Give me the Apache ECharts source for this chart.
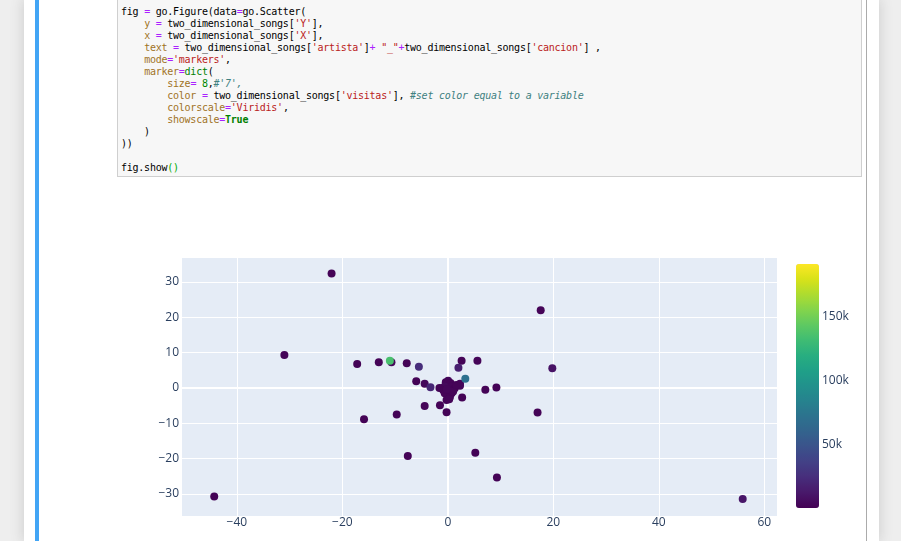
<!DOCTYPE html>
<html>
<head>
<meta charset="utf-8">
<script src="https://cdn.jsdelivr.net/npm/echarts@6/dist/echarts.min.js"></script>
<style>
  html, body { margin: 0; padding: 0; }
  body { width: 901px; height: 541px; overflow: hidden; background: #eeeeee; position: relative; }
  #panel { position: absolute; left: 24px; top: 0; width: 855px; height: 541px; background: #fff;
           box-shadow: 0 0 12px 1px rgba(87,87,87,0.2); }
  #cellborder { position: absolute; left: 35px; top: -2px; width: 832px; height: 560px;
                border-right: 1px solid #ababab; border-left: 4px solid #42a5f5; box-sizing: border-box; }
  #codebox { position: absolute; left: 117px; top: -30px; width: 745px; height: 207px; box-sizing: border-box;
             background: #f7f7f7; border: 1px solid #cfcfcf; }
  pre { position: absolute; left: 121px; top: 5.5px; margin: 0; font-family: "DejaVu Sans Mono", monospace;
        font-size: 10px; letter-spacing: -0.24px; line-height: 12px; color: #000; }
  .op { color: #aa22ff; }
  .kw { color: #a0731f; }
  .s { color: #ba2121; }
  .n { color: #008800; }
  .c { color: #408080; font-style: italic; }
  .bi { color: #008000; }
  .k { color: #008000; font-weight: bold; }
  .mb { color: #00aa00; }
  #chart { position: absolute; left: 0; top: 0; width: 901px; height: 541px; }
</style>
</head>
<body>
<div id="panel"></div>
<div id="cellborder"></div>
<div id="codebox"></div>
<pre>fig <span class="op">=</span> go.Figure(data<span class="op">=</span>go.Scatter(
    <span class="kw">y</span> <span class="op">=</span> two_dimensional_songs[<span class="s">'Y'</span>],
    <span class="kw">x</span> <span class="op">=</span> two_dimensional_songs[<span class="s">'X'</span>],
    <span class="kw">text</span> <span class="op">=</span> two_dimensional_songs[<span class="s">'artista'</span>]<span class="op">+</span> <span class="s">"_"</span><span class="op">+</span>two_dimensional_songs[<span class="s">'cancion'</span>] ,
    <span class="kw">mode</span><span class="op">=</span><span class="s">'markers'</span>,
    <span class="kw">marker</span><span class="op">=</span><span class="bi">dict</span>(
        <span class="kw">size</span><span class="op">=</span> <span class="n">8</span>,<span class="c">#'7',</span>
        <span class="kw">color</span> <span class="op">=</span> two_dimensional_songs[<span class="s">'visitas'</span>], <span class="c">#set color equal to a variable</span>
        <span class="kw">colorscale</span><span class="op">=</span><span class="s">'Viridis'</span>,
        <span class="kw">showscale</span><span class="op">=</span><span class="k">True</span>
    )
))

fig.show<span class="mb">()</span></pre>
<div id="chart"></div>
<script>
// coordenadas 2D de las canciones (X, Y) y visitas
var songX = [-22.05, -31.0, -17.2, -13.1, -10.7, -7.8, -5.5, -6.0, -4.4, -3.3,
             -4.4, -1.5, -15.9, -9.7, -7.6, -44.3, 17.6, 19.8, 5.6, 2.6,
             2.0, 2.3, 2.3, 7.1, 9.2, 2.7, -0.25, 17.0, 5.2, 9.3,
             55.9, 0.05, -0.4, 0.5, -1.2, -0.6, 0.7, 1.3, 0.1, -0.6,
             0.7, 0.4, -0.25, 0.25, -0.9, 1.0, -1.6, 1.6, -0.2, 3.3, -11.0];
var songY = [32.4, 9.3, 6.8, 7.3, 7.3, 7.0, 6.0, 1.9, 1.2, 0.2,
             -5.1, -4.9, -8.9, -7.5, -19.3, -30.8, 22.0, 5.6, 7.7, 7.7,
             5.7, 1.2, 0.6, -0.5, 0.1, -2.7, -6.9, -7.0, -18.4, -25.4,
             -31.5, 2.0, 1.6, 1.4, -0.1, 0.4, 0.4, -0.1, -1.0, -1.5,
             -1.5, -2.5, -3.4, -3.2, -0.6, -1.0, 0.0, 0.8, -0.3, 2.6, 7.7];
var songVisits = [1500, 2000, 1200, 1800, 2500, 1500, 24000, 1000, 3000, 20000,
                  2000, 1500, 1000, 1200, 1800, 1000, 1500, 9000, 2000, 1500,
                  16000, 3000, 2500, 1500, 1200, 1000, 1800, 1500, 1000, 1200,
                  11000, 3000, 2000, 1500, 2500, 4000, 2000, 1000, 3500, 1500,
                  2000, 1200, 1800, 2200, 1500, 2000, 1300, 1700, 2600, 70000, 135000];
var colorbarMin = 0;
var colorbarMax = 191000;
var colorbarStep = 50000;
var viridis = ['#440154', '#48186a', '#472d7b', '#424086', '#3b528b', '#33638d', '#2c728e', '#26828e',
               '#21918c', '#1fa088', '#28ae80', '#3fbc73', '#5ec962', '#84d44b', '#addc30', '#d8e219', '#fde725'];

var points = songX.map(function (x, i) { return [x, songY[i], songVisits[i]]; });
var minus = function (v) { return String(v).replace('-', '\u2212'); };
var tickFont = { fontFamily: 'Open Sans', fontSize: 12, color: '#2a3f5f' };

var chart = echarts.init(document.getElementById('chart'));
var option = {
    animation: false,
    grid: [
        { left: 181, top: 257, width: 596, height: 259, backgroundColor: '#e5ecf6', show: true, borderWidth: 0 },
        { left: 796, top: 264, width: 23, height: 244, show: false }
    ],
    xAxis: [
        {
            type: 'value', min: -50.6, max: 62.4, splitNumber: 5,
            axisLine: { show: false }, axisTick: { show: false },
            splitLine: { lineStyle: { color: '#fff', width: 1 } },
            axisLabel: Object.assign({ margin: 1, showMinLabel: false, showMaxLabel: false, formatter: minus }, tickFont)
        },
        { gridIndex: 1, type: 'category', data: [''], show: false }
    ],
    yAxis: [
        {
            type: 'value', min: -36.3, max: 37.1, splitNumber: 7,
            axisLine: { show: false }, axisTick: { show: false },
            splitLine: { lineStyle: { color: '#fff', width: 1 } },
            axisLabel: Object.assign({ margin: 2, showMinLabel: false, showMaxLabel: false, formatter: minus }, tickFont)
        },
        {
            gridIndex: 1, type: 'value', position: 'right', min: colorbarMin, max: colorbarMax, interval: colorbarStep,
            axisLine: { show: false }, axisTick: { show: false }, splitLine: { show: false },
            axisLabel: Object.assign({ margin: 3, formatter: function (v) {
                return (v > 0 && v % colorbarStep === 0) ? (v / 1000) + 'k' : '';
            } }, tickFont)
        }
    ],
    visualMap: {
        type: 'continuous', seriesIndex: 0, dimension: 2,
        min: colorbarMin, max: colorbarMax,
        left: 796, top: 264, itemWidth: 23, itemHeight: 244, padding: 0,
        calculable: false, hoverLink: false,
        inRange: { color: viridis }
    },
    series: [
        {
            type: 'scatter', data: points, symbolSize: 8, z: 10,
            itemStyle: { opacity: 1 }
        },
        {
            type: 'scatter', data: [], z: 1, silent: true,
            markLine: {
                silent: true, symbol: 'none', label: { show: false }, z: 1,
                lineStyle: { color: '#fff', width: 2, type: 'solid' },
                data: [{ xAxis: 0 }, { yAxis: 0 }]
            }
        },
        { type: 'scatter', xAxisIndex: 1, yAxisIndex: 1, data: [] }
    ]
};
chart.setOption(option);
</script>
</body>
</html>
